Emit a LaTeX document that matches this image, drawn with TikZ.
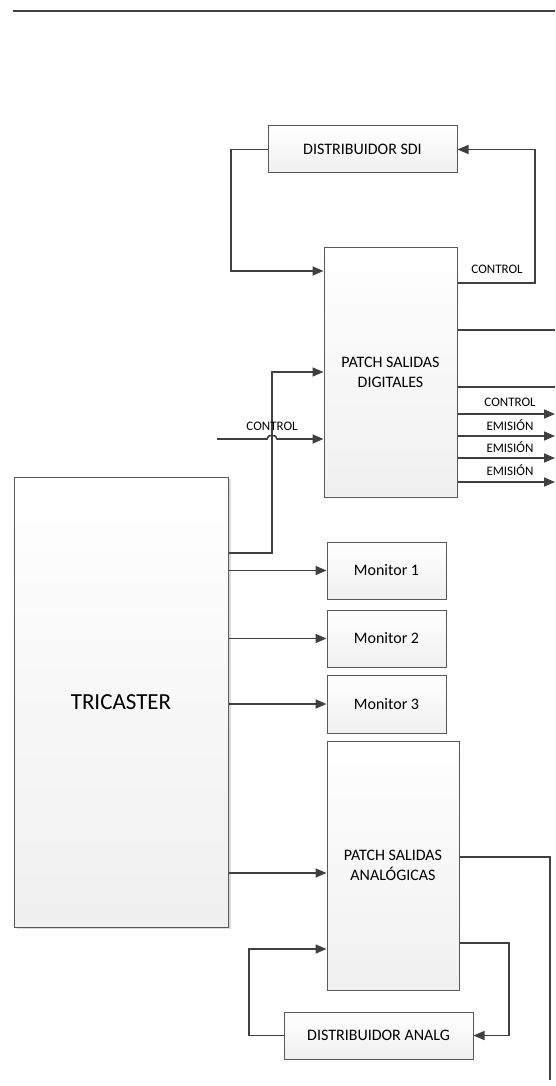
\documentclass[tikz,border=0pt]{standalone}
\usepackage{fontspec}
\setmainfont{Carlito}
\usetikzlibrary{arrows.meta,calc,shadows}
\definecolor{ln}{HTML}{404040}
\definecolor{bd}{HTML}{595959}
\begin{document}
\begin{tikzpicture}[x=1pt,y=-1pt,
  box/.style={draw=bd, line width=1pt, top color=white, bottom color=black!6,
    inner sep=0pt, align=center, font=\fontsize{16}{20}\selectfont},
  conn/.style={draw=ln, line width=1.6pt},
  arr/.style={conn, -{Triangle[length=11pt,width=9pt]}},
  lbl/.style={font=\fontsize{13}{15}\selectfont, text=black, inner sep=0pt}]
\fill[white] (0,0) rectangle (555,1086);
\useasboundingbox (0,0) rectangle (555,1086);
% top rule
\coordinate (r1) at (13,11);
\coordinate (r2) at (555,11);
\draw[ln, line width=2.2pt] (r1) -- (r2);
% boxes
\node[box, minimum width=189pt, minimum height=47pt] (sdi) at (362.5,149.5) {DISTRIBUIDOR SDI};
\node[box, minimum width=133pt, minimum height=250pt] (psd) at (390.5,372) {PATCH SALIDAS\\DIGITALES};
\node[box, minimum width=214pt, minimum height=450pt, font=\fontsize{23}{27}\selectfont,
  drop shadow={shadow xshift=3pt, shadow yshift=-2pt, fill=black!20, opacity=0.7}] (tri) at (121,702) {TRICASTER};
\node[box, minimum width=119pt, minimum height=57pt] (m1) at (386.5,570.5) {Monitor 1};
\node[box, minimum width=119pt, minimum height=57pt] (m2) at (386.5,638.5) {Monitor 2};
\node[box, minimum width=119pt, minimum height=58pt] (m3) at (386.5,704) {Monitor 3};
\node[box, minimum width=132pt, minimum height=249pt] (psa) at (393,865.5) {PATCH SALIDAS\\ANALÓGICAS};
\node[box, minimum width=189pt, minimum height=47pt] (da) at (378.5,1035.5) {DISTRIBUIDOR ANALG};
% PSD control -> SDI
\coordinate (c1) at (535,283);
\draw[arr] (c1 -| psd.east) -- (c1) |- (sdi.east);
\node[lbl] (l0) at (497,269) {CONTROL};
% SDI -> PSD
\coordinate (c2) at (231,271);
\draw[arr] (sdi.west) -| (c2) -- (c2 -| psd.west);
% Tricaster -> PSD
\coordinate (c3) at (272,553);
\draw[arr] (c3 -| tri.east) -- (c3) |- (psd.west);
% control input with hop
\coordinate (cin) at (217,439);
\coordinate (hop) at (272,439);
\draw[arr] (cin) -- ($(hop)+(-5,0)$) .. controls ($(hop)+(-5,-5)$) and ($(hop)+(5,-5)$) .. ($(hop)+(5,0)$) -- (hop -| psd.west);
\node[lbl] (l1) at (272,426) {CONTROL};
% PSD outputs
\coordinate (o1) at (555,330);
\coordinate (o2) at (555,387);
\coordinate (o3) at (555,414);
\coordinate (o4) at (555,436);
\coordinate (o5) at (555,458);
\coordinate (o6) at (555,482);
\draw[conn] (o1 -| psd.east) -- (o1);
\draw[conn] (o2 -| psd.east) -- (o2);
\draw[arr] (o3 -| psd.east) -- (o3);
\draw[arr] (o4 -| psd.east) -- (o4);
\draw[arr] (o5 -| psd.east) -- (o5);
\draw[arr] (o6 -| psd.east) -- (o6);
\node[lbl] (l2) at (510,402) {CONTROL};
\node[lbl] (l3) at (510,425) {EMISIÓN};
\node[lbl] (l4) at (510,447) {EMISIÓN};
\node[lbl] (l5) at (510,470) {EMISIÓN};
% Tricaster -> monitors
\draw[arr] (tri.east |- m1.west) -- (m1.west);
\draw[arr] (tri.east |- m2.west) -- (m2.west);
\draw[arr] (tri.east |- m3.west) -- (m3.west);
% Tricaster -> PSA
\coordinate (c7) at (300,873);
\draw[arr] (c7 -| tri.east) -- (c7 -| psa.west);
% PSA output down
\coordinate (c8) at (550,857);
\coordinate (c8e) at (550,1080);
\draw[conn] (c8 -| psa.east) -- (c8) -- (c8e);
% PSA -> DA
\coordinate (c9) at (509,943);
\draw[arr] (c9 -| psa.east) -- (c9) |- (da.east);
% DA -> PSA
\coordinate (c10) at (249,949);
\draw[arr] (da.west) -| (c10) -- (c10 -| psa.west);
\end{tikzpicture}
\end{document}
